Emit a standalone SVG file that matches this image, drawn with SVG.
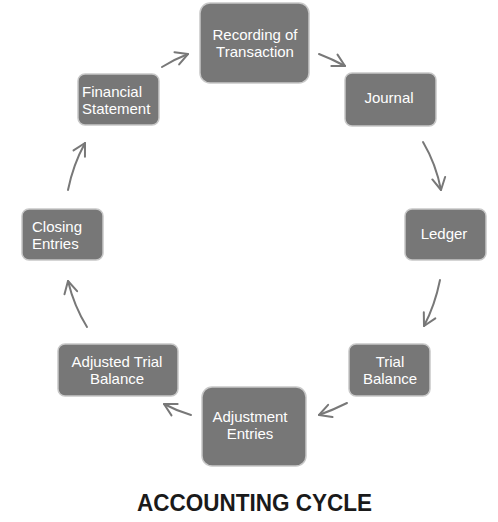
<svg xmlns="http://www.w3.org/2000/svg" width="498" height="522" viewBox="0 0 498 522">
<style>
.box{fill:#777777;stroke:#c8c8c8;stroke-width:1.5}
.lbl{font-family:"Liberation Sans",Arial,sans-serif;font-size:15px;fill:#ffffff}
.c{text-anchor:middle}
.arr{fill:none;stroke:#787878;stroke-width:2;stroke-linecap:round;marker-end:url(#ah)}
.title{font-family:"Liberation Sans",Arial,sans-serif;font-size:23px;font-weight:bold;fill:#1a1a1a;text-anchor:middle}
</style>
<defs>
<marker id="ah" markerUnits="userSpaceOnUse" viewBox="-14 -8 16 16" markerWidth="16" markerHeight="16" refX="0" refY="0" orient="auto">
<path d="M-12,-6.5 L0,0 L-12,6.5" fill="none" stroke="#787878" stroke-width="2" stroke-linecap="round" stroke-linejoin="round"/>
</marker>
</defs>
<rect width="498" height="522" fill="#ffffff"/>
<g id="connectors">
<path class="arr" d="M162,67 Q175,59 188,54"/>
<path class="arr" d="M319,54 Q332,59 345,66"/>
<path class="arr" d="M423,142 Q436,164 441,190"/>
<path class="arr" d="M440,280 Q435,305 424,326"/>
<path class="arr" d="M347,403 Q333,410 319,415"/>
<path class="arr" d="M191,415 Q177,411 164,404"/>
<path class="arr" d="M87,327 Q74,306 68,281"/>
<path class="arr" d="M68,190 Q73,165 85,143"/>
</g>
<g id="recording">
<rect class="box" x="200" y="3" width="109" height="80" rx="10"/>
<text class="lbl c" x="255" y="40">Recording of</text>
<text class="lbl c" x="255" y="57">Transaction</text>
</g>
<g id="journal">
<rect class="box" x="345" y="73" width="91" height="53" rx="7"/>
<text class="lbl c" x="389" y="103">Journal</text>
</g>
<g id="ledger">
<rect class="box" x="405" y="209" width="81" height="51" rx="7"/>
<text class="lbl c" x="444" y="239">Ledger</text>
</g>
<g id="trial-balance">
<rect class="box" x="349" y="344" width="81" height="52" rx="7"/>
<text class="lbl c" x="390" y="367">Trial</text>
<text class="lbl c" x="390" y="384">Balance</text>
</g>
<g id="adjustment-entries">
<rect class="box" x="202" y="387" width="104" height="79" rx="10"/>
<text class="lbl c" x="250" y="422">Adjustment</text>
<text class="lbl c" x="250" y="439">Entries</text>
</g>
<g id="adjusted-trial-balance">
<rect class="box" x="58" y="344" width="120" height="52" rx="7"/>
<text class="lbl c" x="117" y="367">Adjusted Trial</text>
<text class="lbl c" x="117" y="384">Balance</text>
</g>
<g id="closing-entries">
<rect class="box" x="22" y="209" width="81" height="51" rx="7"/>
<text class="lbl" x="32" y="232">Closing</text>
<text class="lbl" x="32" y="249">Entries</text>
</g>
<g id="financial-statement">
<rect class="box" x="78" y="74" width="81" height="51" rx="7"/>
<text class="lbl" x="82" y="97">Financial</text>
<text class="lbl" x="82" y="114">Statement</text>
</g>
<text class="title" x="254.5" y="511" textLength="235" lengthAdjust="spacingAndGlyphs">ACCOUNTING CYCLE</text>
</svg>
